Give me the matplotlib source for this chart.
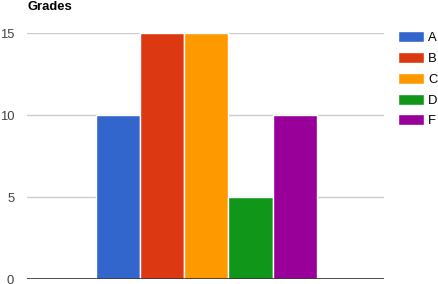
import numpy as np
import matplotlib
matplotlib.use("Agg")
import matplotlib.pyplot as plt

plt.rcParams["font.family"] = ["Liberation Sans", "DejaVu Sans"]

grades = ["A", "B", "C", "D", "F"]
counts = [10, 15, 15, 5, 10]
colors = ["#3366cc", "#dc3912", "#ff9900", "#109618", "#990099"]
yticks = [0, 5, 10, 15]

W, H = 438, 284
fig = plt.figure(figsize=(W / 100, H / 100), dpi=100)
ax = fig.add_axes([27 / W, 5 / H, 357 / W, 246 / H])

x = np.arange(len(grades))
bars = ax.bar(x, counts, width=1.0, color=colors, edgecolor="white",
              linewidth=1.0, label=grades, zorder=2)

ax.set_xlim(-2.06, 6.02)
ax.set_ylim(0, 15)
ax.set_yticks(yticks)
ax.set_xticks([])
ax.grid(axis="y", color="#cccccc", linewidth=1, zorder=0)
ax.axhline(0, color="#333333", linewidth=1.2, zorder=3)
for s in ax.spines.values():
    s.set_visible(False)
# pad in points: 13 px gap at 100 dpi
ax.tick_params(axis="y", length=0, pad=9.2, labelsize=9.4, labelcolor="#444444")

fig.text(28 / W, 1 - 10 / H, "Grades", fontsize=9.4, fontweight="bold",
         ha="left", va="baseline")

ax.legend(bars, grades, loc="upper left", bbox_to_anchor=(398 / W, 1 - 31 / H),
          bbox_transform=fig.transFigure, frameon=False, fontsize=9.4,
          handlelength=2.0, handleheight=0.92, handletextpad=0.3,
          labelspacing=0.6, borderpad=0, borderaxespad=0)

fig.savefig("out.png", dpi=100)
